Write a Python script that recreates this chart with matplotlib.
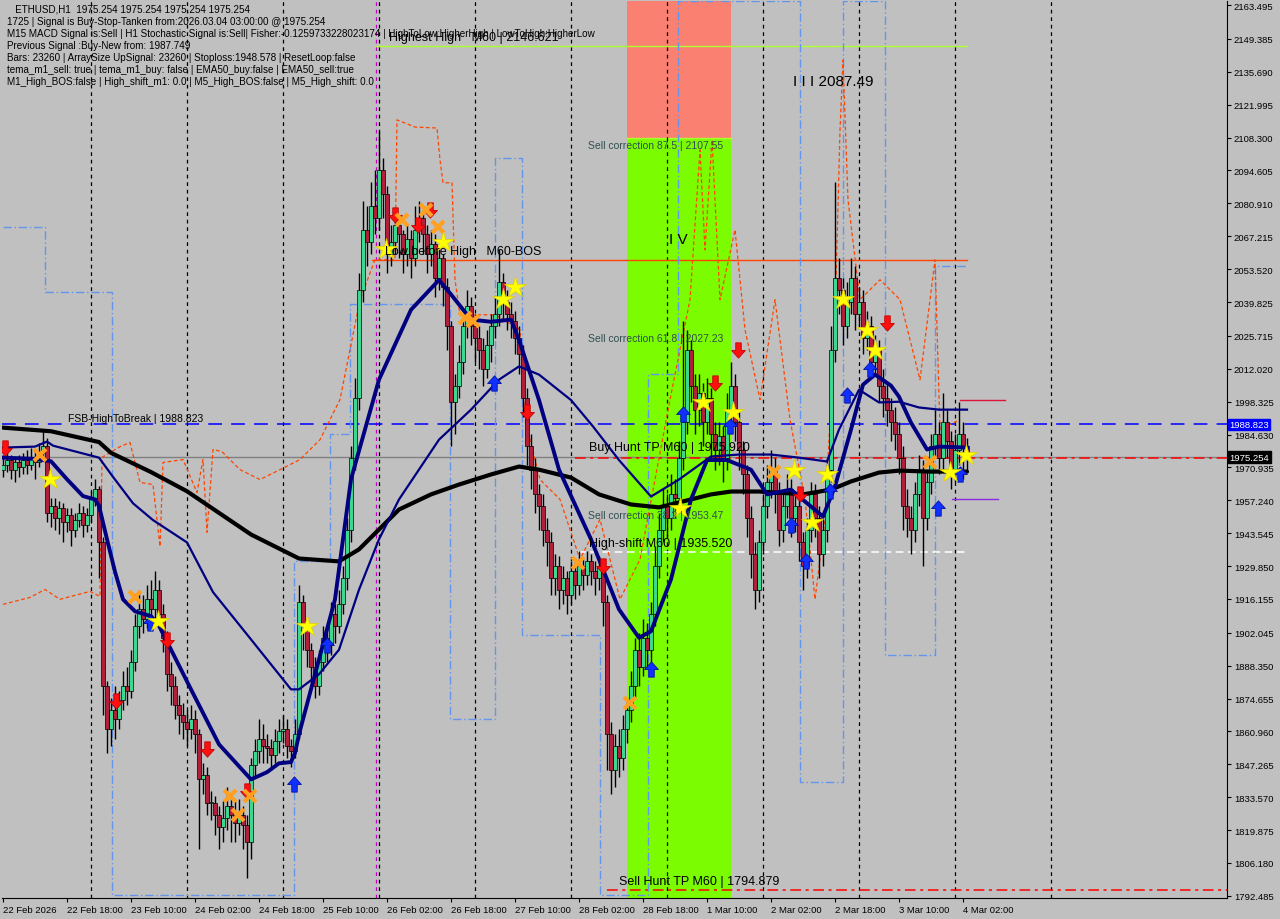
import matplotlib
matplotlib.use("Agg")
import matplotlib.pyplot as plt
import numpy as np
from matplotlib.path import Path
from matplotlib.transforms import blended_transform_factory

# ---------------- data ----------------
close = [1972,1974,1970,1973,1971,1974,1972,1975,1973,1977,
         1980,1952,1955,1950,1954,1948,1951,1945,1949,1952,
         1947,1951,1958,1962,1940,1880,1862,1870,1866,1874,
         1880,1878,1890,1905,1912,1908,1916,1912,1920,1910,
         1900,1885,1880,1872,1868,1865,1862,1866,1860,1841,
         1843,1831,1831,1826,1821,1825,1830,1826,1823,1826,
         1822,1815,1847,1853,1858,1855,1854,1851,1857,1861,
         1862,1855,1853,1860,1915,1905,1895,1888,1880,1890,
         1900,1897,1910,1905,1914,1925,1945,1975,2000,2045,
         2070,2065,2080,2075,2095,2085,2060,2065,2072,2068,
         2060,2066,2058,2070,2075,2068,2060,2064,2050,2058,
         2046,2030,1998,2005,2015,2030,2038,2030,2025,2020,
         2012,2022,2030,2035,2048,2040,2035,2032,2025,2018,
         2000,1980,1970,1960,1955,1945,1940,1925,1930,1920,
         1925,1918,1928,1922,1930,1926,1932,1928,1925,1930,
         1915,1860,1845,1855,1850,1862,1870,1880,1895,1888,
         1900,1895,1910,1930,1945,1955,1950,1960,1958,1975,
         1990,2020,2005,1995,2002,1990,2000,1985,1978,1984,
         1975,1995,2005,1990,1978,1968,1950,1935,1920,1940,
         1955,1965,1970,1960,1945,1955,1962,1950,1955,1940,
         1930,1945,1960,1950,1935,1945,1970,2020,2050,2045,
         2030,2040,2050,2035,2040,2025,2030,2015,2020,2005,
         2000,1995,1990,1985,1975,1955,1950,1945,1960,1970,
         1950,1965,1980,1985,1975,1990,1982,1970,1978,1985,
         1980,1975.254]
high = [1976,1977,1976,1975,1976,1977,1978,1979,1978,1981,
        1986,1983,1958,1958,1957,1956,1954,1954,1952,1956,
        1955,1954,1961,1966,1963,1942,1882,1875,1880,1878,
        1886,1888,1895,1910,1920,1918,1922,1924,1928,1924,
        1914,1903,1890,1884,1876,1873,1870,1872,1870,1862,
        1848,1846,1836,1834,1830,1832,1838,1835,1832,1833,
        1830,1826,1850,1858,1866,1864,1860,1858,1862,1866,
        1868,1866,1858,1866,1922,1918,1908,1898,1892,1895,
        1905,1904,1915,1914,1920,1930,1950,1980,2008,2052,
        2082,2080,2090,2095,2111,2100,2088,2072,2078,2076,
        2070,2072,2070,2080,2082,2078,2072,2070,2068,2062,
        2060,2050,2032,2010,2022,2035,2045,2042,2035,2030,
        2025,2028,2035,2042,2062,2052,2045,2040,2036,2030,
        2022,2004,1985,1975,1964,1960,1950,1944,1935,1934,
        1930,1928,1932,1932,1936,1933,1936,1935,1932,1934,
        1932,1918,1865,1860,1862,1868,1875,1886,1900,1902,
        1908,1906,1915,1938,1952,1962,1960,1968,1966,1982,
        2032,2028,2024,2010,2010,2006,2008,2004,1990,1990,
        1988,2002,2015,2010,1994,1982,1972,1955,1940,1945,
        1960,1972,1978,1975,1965,1960,1968,1966,1960,1958,
        1944,1950,1965,1964,1955,1950,1975,2030,2090,2058,
        2050,2048,2058,2055,2046,2045,2036,2034,2026,2024,
        2012,2006,2000,1996,1990,1980,1962,1955,1965,1976,
        1974,1970,1985,1995,1990,2002,1995,1986,1985,1998,
        1990,1983]
low = [1967,1969,1966,1965,1967,1968,1968,1970,1966,1971,
       1975,1948,1946,1945,1943,1940,1944,1938,1942,1946,
       1942,1944,1948,1955,1925,1868,1852,1855,1858,1862,
       1870,1872,1875,1886,1900,1902,1904,1906,1908,1905,
       1894,1878,1872,1866,1860,1858,1855,1858,1852,1812,
       1835,1826,1824,1818,1812,1815,1820,1815,1815,1818,
       1812,1800,1808,1842,1848,1848,1848,1845,1848,1852,
       1856,1850,1846,1850,1858,1895,1888,1880,1875,1876,
       1886,1890,1893,1898,1902,1910,1920,1940,1970,1995,
       2040,2055,2060,2068,2070,2075,2052,2055,2060,2058,
       2052,2055,2050,2055,2065,2060,2052,2055,2042,2045,
       2038,2020,1980,1985,2000,2010,2025,2022,2015,2012,
       2005,2008,2015,2025,2030,2032,2028,2025,2018,2010,
       1992,1972,1962,1952,1945,1938,1930,1918,1918,1912,
       1914,1910,1914,1916,1918,1920,1922,1922,1918,1920,
       1905,1845,1835,1838,1842,1845,1856,1865,1875,1880,
       1884,1888,1890,1905,1925,1940,1942,1945,1950,1952,
       1970,1985,1998,1985,1988,1980,1985,1975,1970,1972,
       1965,1970,1990,1982,1970,1960,1942,1925,1912,1915,
       1935,1950,1958,1952,1938,1940,1950,1942,1944,1932,
       1920,1925,1940,1942,1925,1930,1940,1965,2015,2035,
       2022,2025,2035,2028,2030,2018,2020,2008,2010,1998,
       1992,1988,1982,1978,1968,1945,1942,1935,1940,1955,
       1930,1945,1960,1975,1968,1970,1975,1962,1965,1972,
       1966,1970]
first_open = 1970.0

# moving averages (bar index, price)
ma_slow_x = [0,12,24,27,37,46,54,62,74,84,89,94,99,107,114,122,129,134,142,149,
             157,164,172,177,182,189,197,200,207,212,219,224,232,241]
ma_slow_y = [1987.5,1986,1981.5,1977,1969,1961,1952,1943,1933,1931.8,1936.8,1945.1,
             1953.4,1959.7,1963.8,1968,1971.3,1970,1966.7,1959.7,1955.5,1954.3,1957.6,
             1959.7,1960.9,1960.9,1960.1,1959.7,1961.7,1965.1,1968.8,1969.6,1969.2,1969.2]
ma_fast_x = [0,8,12,16,20,23,24,26,28,30,33,37,39,47,54,62,66,69,72,73,74,79,83,87,
             94,102,109,112,117,122,127,129,134,139,147,151,154,159,162,167,172,176,
             181,187,191,197,199,205,208,212,215,218,222,224,227,231,234,241]
ma_fast_y = [1975,1974.5,1973.5,1966,1959,1957.6,1955,1941,1927.5,1916,1911,1909,1905,
             1878.5,1855.6,1841,1844,1847.7,1848.2,1852,1859.8,1891,1916,1966,2007.5,
             2036.6,2049,2043,2032.5,2031.6,2032.5,2024,1999,1970,1941,1924.3,1911.8,
             1900,1902.7,1924.3,1957.6,1974,1974,1970,1959.7,1961.7,1958.8,1950.5,1963,
             1986.7,2005.4,2009.6,2005,2000.4,1989.6,1978.4,1979.6,1979.2]
ma_mid_x = [0,8,11,12.5,24,27.5,32.5,37.5,46,52.5,62,72,74,79,84,89,94,99,109,117,
            124,129,134,142,147.5,154,162,169,177,184,192,199,206,209,214,219,224,229,234,241]
ma_mid_y = [1979.2,1979.6,1981.7,1980,1975,1967,1956,1949,1939.7,1919,1899.3,1878.5,
            1878.5,1884.8,1895,1920,1941,1957.6,1982.5,1995,2007.5,2013,2009.6,1999,1988,
            1974,1958.8,1965.9,1975.5,1976.3,1976.3,1975,1973.4,1986.7,2003.3,1998,1998.3,
            1995.9,1995,1995]

orange_x = [0,6.75,10.5,14.25,21.75,24.25,24.75,29.25,31.75,34.25,37.5,39.25,40,45,48.5,
            50,51,52.5,54.75,59.25,64.25,69.25,74.25,79.25,84.25,89.25,93,98,98.5,103,108.5,
            109.25,110,112.25,113,114.25,123,129.25,130.5,134.25,139.25,144.25,149.25,154.25,
            159.25,163,166.75,171.75,174.25,175.5,177.25,179.25,183,185.5,189.25,193,196.75,
            200.5,203,205.5,208,209.25,210,211.25,214.25,219.25,224.25,229.25,233,234.25,239.25]
orange_y = [1913.9,1916.8,1920.1,1916,1919.3,1917.2,1975.1,1979.6,1981.3,1964.7,1963.8,1938,
            1973,1974.2,1960.5,1974.2,1943.9,1978.4,1977.5,1970,1965.9,1970,1974.2,1982.5,1999.2,
            2040.8,2057.4,2057.4,2115.7,2112.7,2112.3,2099,2089.5,2089.5,2049.1,2034.5,2034.5,
            2028.3,1990.9,1965.9,1957.6,1932.6,1949.3,1916,1932.6,1965.9,1999.2,2040.8,2103.2,
            2061.6,2107.3,2040.8,2069.9,2028.3,1999.2,2040.8,1990.9,1957.6,1916,1949.3,2032.5,
            2111.5,2140.6,2082.4,2040.8,2049.1,2040.8,2007.5,2057.4,1986.7,1990.9]

blue_x = [0,10.5,10.5,27.25,27.25,72.75,72.75,81.75,81.75,86.75,86.75,111.75,111.75,
          123,123,129.75,129.75,149.25,149.25,161.25,161.25,168.75,168.75,199.25,199.25,
          210,210,220.5,220.5,233,233,241]
blue_y = [2071,2071,2044,2044,1793,1793,1932,1932,1985,1985,2039,2039,1866,1866,2100,2100,
          1901,1901,1793,1793,2010,2010,2165,2165,1840,1840,2165,2165,1893,1893,2055,2055]

# trade markers (bar index, price)
down_x = [0.5,28.25,41,51,61,98,103.75,106.75,131,150,178,183.75,199.25,221]
down_y = [1979,1873.5,1899,1853.5,1836,2076,2072,2078,1994,1930,2006,2020,1960,2031]
up_x = [36.75,72.75,81,122.75,162,170,181.75,197,200.75,206.75,211,216.75,233.75,239.25]
up_y = [1906,1839,1897,2006,1887,1993,1988,1947,1932,1961,2001,2012,1954,1968]
cross_x = [9.25,33,56.75,58.75,61.75,99.75,105.75,108.75,115.5,117.5,143.75,156.75,192.75,231.75]
cross_y = [1976,1917,1834,1826,1834,2074,2078,2071,2033,2032,1931,1873,1969,1973]
star_x = [11.75,38.75,76,95.75,110,125,128,169.25,175,182.5,197.75,202.25,206,210,216,218,236.75,240.75]
star_y = [1966,1907,1905,2062,2065,2041,2046,1954,1998,1994,1970,1948,1968,2041,2028,2020,1969,1976]

yticks = [2163.495,2149.385,2135.690,2121.995,2108.300,2094.605,2080.910,2067.215,2053.520,
          2039.825,2025.715,2012.020,1998.325,1984.630,1970.935,1957.240,1943.545,1929.850,
          1916.155,1902.045,1888.350,1874.655,1860.960,1847.265,1833.570,1819.875,1806.180,1792.485]
xtick_bars = list(range(0, 241, 16))
xtick_labels = ["22 Feb 2026","22 Feb 18:00","23 Feb 10:00","24 Feb 02:00","24 Feb 18:00",
                "25 Feb 10:00","26 Feb 02:00","26 Feb 18:00","27 Feb 10:00","28 Feb 02:00",
                "28 Feb 18:00","1 Mar 10:00","2 Mar 02:00","2 Mar 18:00","3 Mar 10:00","4 Mar 02:00"]
day_sep = [22,46,70,94,118,142,166,190,214,238,262]

info_lines = [
    "   ETHUSD,H1  1975.254 1975.254 1975.254 1975.254",
    "1725 | Signal is Buy-Stop-Tanken from:2026.03.04 03:00:00 @ 1975.254",
    "M15 MACD Signal is:Sell | H1 Stochastic Signal is:Sell| Fisher:-0.1259733228023174 | HighToLow:HigherHigh | LowToHigh:HigherLow",
    "Previous Signal :Buy-New from: 1987.749",
    "Bars: 23260 | ArraySize UpSignal: 23260 | Stoploss:1948.578 | ResetLoop:false",
    "tema_m1_sell: true | tema_m1_buy: false | EMA50_buy:false | EMA50_sell:true",
    "M1_High_BOS:false | High_shift_m1: 0.0 | M5_High_BOS:false | M5_High_shift: 0.0",
]

# levels
highest_high = 2146.621
bos_level = 2057.4
fsb_level = 1988.823
bid = 1975.254
buy_tp = 1975.0
high_shift = 1935.520
sell_tp = 1794.879
sell_corr = [(87.5, 2107.55), (61.8, 2027.23), (38.2, 1953.47)]
zone_x0, zone_x1 = 156, 182
zone_split = 2108.3

# ---------------- drawing ----------------
BG = "#C0C0C0"
W, H = 1280, 920
fig = plt.figure(figsize=(W/100, H/100), dpi=100, facecolor=BG)
L, R, T, B = 2, 1227, 2, 899
ax = fig.add_axes([L/W, 1-B/H, (R-L)/W, (B-T)/H], facecolor=BG)
ax.set_xlim(-0.25, 306)
ax.set_ylim(1791.6, 2165.2)
plt.rcParams['font.family'] = ['Liberation Sans', 'DejaVu Sans']
FONT = 'Liberation Sans'

# zones
ax.axvspan(zone_x0, zone_x1, ymin=0, ymax=1, color='#7CFC00', zorder=0, lw=0)
ax.fill_between([zone_x0, zone_x1], zone_split, 2166, color='#FA8072', zorder=0.5, lw=0)
ax.plot([zone_x0, zone_x1], [zone_split, zone_split], color='#ADFF2F', lw=1, zorder=0.6)

# day separators
for d in day_sep:
    ax.axvline(d, color='black', lw=0.9, ls=(0, (3, 3)), zorder=1)
ax.axvline(93.2, color='#C000C0', lw=0.9, ls=(0, (3, 3)), zorder=1)

# horizontal levels
ax.plot([93, 241], [highest_high, highest_high], color='#ADFF2F', lw=1, zorder=2)
ax.plot([92.25, 241], [bos_level, bos_level], color='#FF4500', lw=1, zorder=2)
ax.axhline(fsb_level, color='#0000FF', lw=1.1, ls=(0, (9, 6)), zorder=2)
ax.axhline(bid, color='#808080', lw=1, zorder=2)
ax.plot([143, 306], [buy_tp, buy_tp], color='#FF0000', lw=1.1, ls=(0, (7, 3, 2, 3)), zorder=2)
ax.plot([143.75, 241.25], [high_shift, high_shift], color='white', lw=1.1, ls=(0, (5, 3)), zorder=2)
ax.plot([151, 306], [sell_tp, sell_tp], color='#FF0000', lw=1.1, ls=(0, (7, 3, 2, 3)), zorder=2)
ax.plot([239.25, 250.5], [1999.2, 1999.2], color='#DC143C', lw=1, zorder=2)
ax.plot([237.25, 248.75], [1957.6, 1957.6], color='#8A2BE2', lw=1, zorder=2)

# blue step line
ax.plot(blue_x, blue_y, color='#6495ED', lw=1, ls=(0, (6, 2, 1, 2)), zorder=2.5)
# orange line
ax.plot(orange_x, orange_y, color='#FF4500', lw=0.9, ls=(0, (3, 2)), zorder=2.5)

# candles
opens = [first_open] + close[:-1]
xs = np.arange(len(close))
o = np.array(opens); c = np.array(close); hi = np.array(high); lo = np.array(low)
ax.vlines(xs, lo, hi, color='black', lw=1, zorder=3)
up = c >= o
bot = np.minimum(o, c); ht = np.maximum(np.abs(c - o), 0.4)
ax.bar(xs[up], ht[up], bottom=bot[up], width=0.8, color='#3CD890', edgecolor='black', lw=0.5, zorder=3.2)
ax.bar(xs[~up], ht[~up], bottom=bot[~up], width=0.8, color='#B0203A', edgecolor='black', lw=0.5, zorder=3.2)

# moving averages
ax.plot(ma_slow_x, ma_slow_y, color='black', lw=3, zorder=4, solid_capstyle='round')
ax.plot(ma_mid_x, ma_mid_y, color='#000080', lw=1.6, zorder=4)
ax.plot(ma_fast_x, ma_fast_y, color='#000080', lw=2.8, zorder=4.1)

# markers
arrow_dn = Path([(-0.18, 0.5), (0.18, 0.5), (0.18, 0.0), (0.45, 0.0), (0.0, -0.5), (-0.45, 0.0), (-0.18, 0.0), (-0.18, 0.5)],
                [Path.MOVETO] + [Path.LINETO]*6 + [Path.CLOSEPOLY])
arrow_up = Path([(x, -y) for x, y in arrow_dn.vertices], arrow_dn.codes)
ax.plot(down_x, down_y, ls='none', marker=arrow_dn, ms=11, mfc='#FF1010', mec='#C00000', mew=0.6, zorder=6)
ax.plot(up_x, up_y, ls='none', marker=arrow_up, ms=11, mfc='#1030FF', mec='#0010A0', mew=0.6, zorder=6)
ax.plot(cross_x, cross_y, ls='none', marker='x', ms=9, mec='#FFA020', mew=3, zorder=6)
ax.plot(star_x, star_y, ls='none', marker='*', ms=16, mfc='#FFFF00', mec='#E0D000', mew=0.5, zorder=6.2)

# texts on chart
tk = dict(fontfamily=FONT, zorder=7)
ax.text(96.5, highest_high + 1.2, "Highest High   M60 | 2146.621", fontsize=9, color='black', va='bottom', **tk)
ax.text(95.5, bos_level + 1.0, "Low before High   M60-BOS", fontsize=9, color='black', va='bottom', **tk)
ax.text(16.3, fsb_level + 0.8, "FSB-HighToBreak | 1988.823", fontsize=7.5, color='black', va='bottom', **tk)
ax.text(146.5, buy_tp + 2.0, "Buy Hunt TP M60 | 1975.920", fontsize=9, color='black', va='bottom', **tk)
ax.text(146.5, high_shift + 1.5, "High-shift M60 | 1935.520", fontsize=9, color='black', va='bottom', **tk)
ax.text(154, sell_tp + 1.5, "Sell Hunt TP M60 | 1794.879", fontsize=9, color='black', va='bottom', **tk)
for pct, val in sell_corr:
    ax.text(146.3, val - 2.2, f"Sell correction {pct} | {val}", fontsize=7.5, color='#2F4F4F', va='center', **tk)
ax.text(166.5, 2063, "I V", fontsize=11, color='black', va='bottom', **tk)
ax.text(197.5, 2129, "I I I 2087.49", fontsize=11, color='black', va='bottom', **tk)

for i, line in enumerate(info_lines):
    fig.text(7/W, 1 - (10 + 12*i)/H, line, fontsize=7.1, color='black', va='center', ha='left', fontfamily=FONT)

# axes styling
for s in ['top', 'left']:
    ax.spines[s].set_visible(False)
ax.spines['right'].set_color('black')
ax.spines['bottom'].set_color('black')
ax.yaxis.tick_right()
ax.set_yticks(yticks)
ax.set_yticklabels([f"{v:.3f}" for v in yticks], fontsize=6.8, fontfamily=FONT)
ax.tick_params(axis='y', length=3, width=0.8, pad=2, colors='black')
ax.set_xticks(xtick_bars)
ax.set_xticklabels(xtick_labels, fontsize=6.8, fontfamily=FONT)
ax.tick_params(axis='x', length=3, width=0.8, pad=2)
for lbl in ax.get_xticklabels():
    lbl.set_ha('left')

trans = blended_transform_factory(ax.transAxes, ax.transData)
ax.text(1.002, fsb_level, "1988.823", transform=trans, fontsize=6.8, color='white', va='center', ha='left',
        fontfamily=FONT, bbox=dict(boxstyle='square,pad=0.15', fc='#0000FF', ec='#0000FF'), clip_on=False, zorder=8)
ax.text(1.002, bid, "1975.254", transform=trans, fontsize=6.8, color='white', va='center', ha='left',
        fontfamily=FONT, bbox=dict(boxstyle='square,pad=0.15', fc='black', ec='black'), clip_on=False, zorder=8)

fig.savefig("out.png", dpi=100, facecolor=BG)
